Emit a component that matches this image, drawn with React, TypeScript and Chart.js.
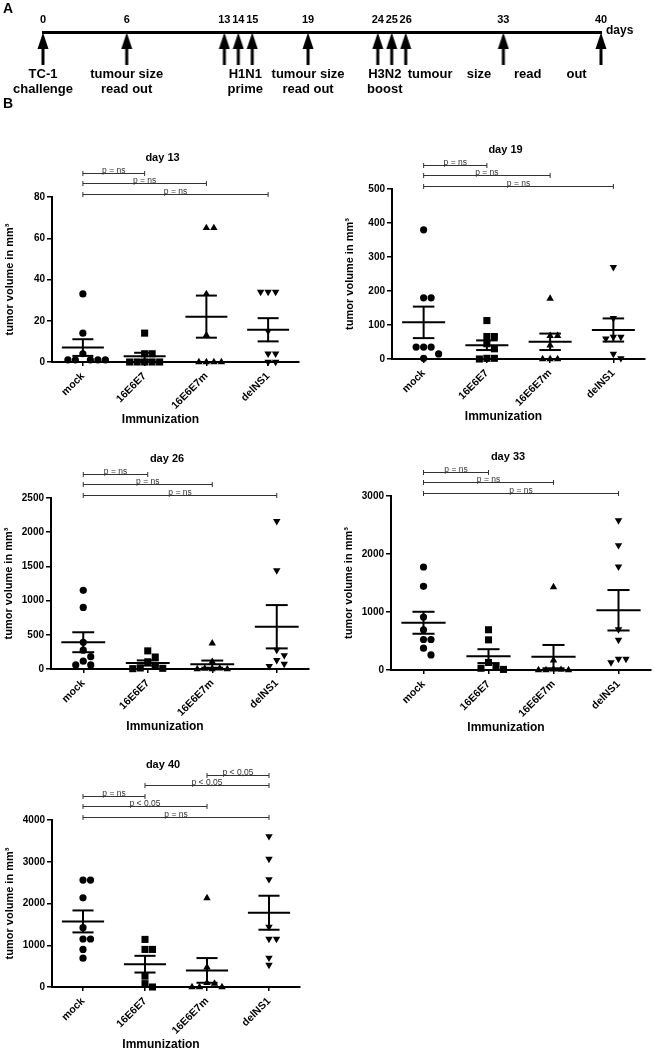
import React, { useEffect, useRef } from 'react';
import { Chart, registerables } from 'chart.js';

Chart.register(...registerables);

const FONT = '"Liberation Sans", Arial, Helvetica, sans-serif';

// ---------- Panel A: timeline ----------
const timelineDays = [0, 6, 13, 14, 15, 19, 24, 25, 26, 33, 40];
const timelineLabelDays = [0, 6, 14.5, 19, 24.5];
const timelineLabelLines = [
  ['TC-1', 'challenge'],
  ['tumour size', 'read out'],
  ['H1N1', 'prime'],
  ['tumour size', 'read out'],
  ['H3N2', 'boost'],
];
const timelineSpreadRange = [26, 40];
const timelineSpreadWords = ['tumour', 'size', 'read', 'out'];

// ---------- Panel B: tumour volumes ----------
const categories = ['mock', '16E6E7', '16E6E7m', 'delNS1'];

const day13Mock = [33, 14, 4, 1, 1, 1, 1, 1];
const day13E6E7 = [14, 4, 4, 0, 0, 0, 0, 0];
const day13E6E7m = [65, 65, 33, 13, 0, 0, 0, 0];
const day13DelNS1 = [34, 34, 34, 15, 4, 4, 0, 0];
const day13Ticks = [0, 20, 40, 60, 80];

const day19Mock = [380, 180, 180, 35, 35, 35, 15, 2];
const day19E6E7 = [113, 66, 66, 45, 30, 2, 2, 0];
const day19E6E7m = [178, 68, 68, 40, 0, 0, 0];
const day19DelNS1 = [270, 120, 65, 65, 60, 15, 2];
const day19Ticks = [0, 100, 200, 300, 400, 500];

const day26Mock = [1150, 900, 390, 275, 180, 115, 60, 60];
const day26E6E7 = [265, 175, 105, 40, 15, 10, 5];
const day26E6E7m = [374, 107, 10, 5, 0, 0, 0];
const day26DelNS1 = [2160, 1440, 280, 200, 130, 75, 40];
const day26Ticks = [0, 500, 1000, 1500, 2000, 2500];

const day33Mock = [1776, 1443, 914, 694, 526, 526, 376, 260];
const day33E6E7 = [694, 520, 130, 50, 30, 10];
const day33E6E7m = [1430, 168, 10, 5, 0, 0, 0];
const day33DelNS1 = [2580, 2150, 1780, 700, 520, 190, 130, 190];
const day33Ticks = [0, 1000, 2000, 3000];

const day40Mock = [2560, 2560, 2135, 1420, 1150, 1150, 900, 690];
const day40E6E7 = [1140, 900, 900, 260, 80, 0];
const day40E6E7m = [2130, 470, 100, 80, 0, 0, 0];
const day40DelNS1 = [3610, 3070, 2580, 1440, 1150, 1150, 700, 530];
const day40Ticks = [0, 1000, 2000, 3000, 4000];

// significance brackets, listed from the lowest row upwards: [from, to, label]
const bracketsNs3 = [
  [0, 3, 'p = ns'],
  [0, 2, 'p = ns'],
  [0, 1, 'p = ns'],
];
const day40Brackets = [
  [0, 3, 'p = ns'],
  [0, 2, 'p < 0,05'],
  [0, 1, 'p = ns'],
  [1, 3, 'p < 0,05'],
  [2, 3, 'p < 0,05'],
];

const panels = [
  { title: 'day 13', groups: [day13Mock, day13E6E7, day13E6E7m, day13DelNS1], ticks: day13Ticks, brackets: bracketsNs3 },
  { title: 'day 19', groups: [day19Mock, day19E6E7, day19E6E7m, day19DelNS1], ticks: day19Ticks, brackets: bracketsNs3 },
  { title: 'day 26', groups: [day26Mock, day26E6E7, day26E6E7m, day26DelNS1], ticks: day26Ticks, brackets: bracketsNs3 },
  { title: 'day 33', groups: [day33Mock, day33E6E7, day33E6E7m, day33DelNS1], ticks: day33Ticks, brackets: bracketsNs3 },
  { title: 'day 40', groups: [day40Mock, day40E6E7, day40E6E7m, day40DelNS1], ticks: day40Ticks, brackets: day40Brackets },
];

// layout (plot area in page pixels)
const panelBoxes = [
  { L: 52, R: 299, T: 197, B: 362 },
  { L: 392, R: 645, T: 189, B: 359 },
  { L: 51, R: 309, T: 498, B: 669 },
  { L: 391, R: 651, T: 496, B: 670 },
  { L: 52, R: 300, T: 820, B: 987 },
];

const markerStyles = [
  { style: 'circle', radius: 3.6, rotation: 0 },
  { style: 'rect', radius: 5, rotation: 0 },
  { style: 'triangle', radius: 4.3, rotation: 0 },
  { style: 'triangle', radius: 4.3, rotation: 180 },
];

// horizontal spreading of points with (nearly) equal values, like a scatter dot plot
function swarm(values: number[], max: number, plotH: number, catW: number): number[] {
  const STEP = 7.5;
  const D = 7;
  const order = values.map((_, i) => i).sort((a, b) => values[b] - values[a]);
  const placed: { x: number; y: number }[] = [];
  const out = values.map(() => 0);
  const cand = [0, 1, -1, 2, -2, 3, -3, 4, -4];
  for (const i of order) {
    const y = (values[i] / max) * plotH;
    for (const k of cand) {
      const x = k * STEP;
      if (placed.every((p) => Math.hypot(p.x - x, p.y - y) >= D)) {
        placed.push({ x, y });
        out[i] = x / catW;
        break;
      }
    }
  }
  return out;
}

const meanSemPlugin = {
  id: 'meanSem',
  beforeDatasetsDraw(chart: any, _a: any, opts: any) {
    const { ctx } = chart;
    const xs = chart.scales.x;
    const ys = chart.scales.y;
    const catW = xs.getPixelForValue(1) - xs.getPixelForValue(0);
    ctx.save();
    ctx.strokeStyle = '#000';
    ctx.lineWidth = 2;
    (opts.groups as number[][]).forEach((vals, i) => {
      const n = vals.length;
      const m = vals.reduce((s, v) => s + v, 0) / n;
      const sd = Math.sqrt(vals.reduce((s, v) => s + (v - m) * (v - m), 0) / (n - 1));
      const sem = sd / Math.sqrt(n);
      const cx = xs.getPixelForValue(i);
      const yM = ys.getPixelForValue(m);
      const yT = ys.getPixelForValue(m + sem);
      const yB = ys.getPixelForValue(m - sem);
      const seg = (x1: number, y1: number, x2: number, y2: number) => {
        ctx.beginPath();
        ctx.moveTo(x1, y1);
        ctx.lineTo(x2, y2);
        ctx.stroke();
      };
      seg(cx - 0.34 * catW, yM, cx + 0.34 * catW, yM);
      seg(cx - 0.17 * catW, yT, cx + 0.17 * catW, yT);
      seg(cx - 0.17 * catW, yB, cx + 0.17 * catW, yB);
      seg(cx, yT, cx, yB);
    });
    ctx.restore();
  },
};

const panelTextPlugin = {
  id: 'panelText',
  afterDraw(chart: any, _a: any, opts: any) {
    const { ctx, chartArea } = chart;
    const xs = chart.scales.x;
    const rows = opts.brackets as any[];
    const mid = (chartArea.left + chartArea.right) / 2;
    ctx.save();
    // brackets
    ctx.strokeStyle = '#333';
    ctx.fillStyle = '#333';
    ctx.lineWidth = 1;
    ctx.font = `8.5px ${FONT}`;
    ctx.textAlign = 'center';
    ctx.textBaseline = 'alphabetic';
    rows.forEach((r, k) => {
      const y = Math.round(chartArea.top - 3.5 - k * 10.4) + 0.5;
      const x1 = xs.getPixelForValue(r[0]);
      const x2 = xs.getPixelForValue(r[1]);
      ctx.beginPath();
      ctx.moveTo(x1, y);
      ctx.lineTo(x2, y);
      ctx.moveTo(x1, y - 2.5);
      ctx.lineTo(x1, y + 2.5);
      ctx.moveTo(x2, y - 2.5);
      ctx.lineTo(x2, y + 2.5);
      ctx.stroke();
      ctx.fillText(r[2], (x1 + x2) / 2, y - 0.5);
    });
    // title
    ctx.fillStyle = '#000';
    ctx.font = `bold 11px ${FONT}`;
    ctx.textBaseline = 'middle';
    ctx.fillText(opts.title, mid - 13, chartArea.top - (39 + (rows.length - 3) * 8));
    // x-axis title
    ctx.font = `bold 12px ${FONT}`;
    ctx.fillText('Immunization', mid - 15, chartArea.bottom + 58);
    ctx.restore();
  },
};

function Panel({ spec, box }: { spec: any; box: any }) {
  const ref = useRef<HTMLCanvasElement>(null);
  const yW = 54;
  const padR = 6;
  const xH = 66;
  const rows = spec.brackets.length;
  const padT = rows > 3 ? 63 : 47;
  const left = box.L - yW;
  const top = box.T - padT;
  const width = box.R - box.L + yW + padR;
  const height = box.B - top + xH;

  useEffect(() => {
    const max = spec.ticks[spec.ticks.length - 1];
    const plotH = box.B - box.T;
    const catW = (box.R - box.L) / categories.length;
    const datasets = spec.groups.map((vals: number[], i: number) => {
      const offs = swarm(vals, max, plotH, catW);
      const ms = markerStyles[i];
      return {
        data: vals.map((v, j) => ({ x: i + offs[j], y: v })),
        pointStyle: ms.style,
        pointRadius: ms.radius,
        pointHoverRadius: ms.radius,
        pointRotation: ms.rotation,
        pointBackgroundColor: '#000',
        pointBorderColor: '#000',
        pointBorderWidth: 0,
        showLine: false,
        clip: false,
      };
    });
    const axisGrid = { display: true, drawOnChartArea: false, drawTicks: true, color: '#000', lineWidth: 1.5 };
    const chart = new Chart(ref.current as HTMLCanvasElement, {
      type: 'scatter',
      data: { datasets },
      options: {
        responsive: false,
        animation: false,
        events: [],
        layout: { padding: { left: 0, right: padR, top: padT, bottom: 0 } },
        plugins: {
          legend: { display: false },
          tooltip: { enabled: false },
          meanSem: { groups: spec.groups },
          panelText: { brackets: spec.brackets, title: spec.title },
        } as any,
        scales: {
          x: {
            type: 'linear',
            min: -0.5,
            max: categories.length - 0.5,
            afterBuildTicks: (s: any) => {
              s.ticks = categories.map((_, i) => ({ value: i }));
            },
            afterFit: (s: any) => {
              s.height = xH;
            },
            grid: { ...axisGrid, tickLength: 4 },
            border: { display: true, color: '#000', width: 2 },
            ticks: {
              autoSkip: false,
              minRotation: 45,
              maxRotation: 45,
              padding: 4,
              color: '#000',
              font: { family: FONT, size: 10.5, weight: 'bold' },
              callback: (v: any) => categories[v] ?? '',
            },
          },
          y: {
            type: 'linear',
            min: 0,
            max,
            afterBuildTicks: (s: any) => {
              s.ticks = spec.ticks.map((v: number) => ({ value: v }));
            },
            afterFit: (s: any) => {
              s.width = yW;
            },
            grid: { ...axisGrid, tickLength: 5 },
            border: { display: true, color: '#000', width: 2 },
            ticks: {
              padding: 2,
              color: '#000',
              font: { family: FONT, size: 10, weight: 'bold' },
              callback: (v: any) => String(v),
            },
            title: {
              display: true,
              text: 'tumor volume in mm³',
              color: '#000',
              font: { family: FONT, size: 11, weight: 'bold' },
              padding: { top: 5.4, bottom: 0 },
            },
          },
        } as any,
      },
      plugins: [meanSemPlugin, panelTextPlugin],
    } as any);
    return () => chart.destroy();
  }, []);

  return (
    <canvas
      ref={ref}
      width={width}
      height={height}
      style={{ position: 'absolute', left, top, width, height }}
    />
  );
}

const timelinePlugin = {
  id: 'timelineText',
  afterDraw(chart: any) {
    const { ctx, chartArea } = chart;
    const xs = chart.scales.x;
    ctx.save();
    ctx.fillStyle = '#000';
    ctx.font = `bold 13px ${FONT}`;
    ctx.textAlign = 'center';
    ctx.textBaseline = 'middle';
    timelineLabelDays.forEach((d, i) => {
      const x = xs.getPixelForValue(d);
      timelineLabelLines[i].forEach((t, k) => ctx.fillText(t, x, chartArea.bottom + 9 + k * 15));
    });
    const x0 = xs.getPixelForValue(timelineSpreadRange[0]);
    const x1 = xs.getPixelForValue(timelineSpreadRange[1]);
    timelineSpreadWords.forEach((w, i) => {
      ctx.fillText(w, x0 + ((x1 - x0) * (i + 0.5)) / timelineSpreadWords.length, chartArea.bottom + 9);
    });
    ctx.textAlign = 'left';
    ctx.font = `bold 12px ${FONT}`;
    ctx.fillText('days', chartArea.right + 5, chartArea.top - 1);
    ctx.restore();
  },
};

function Timeline() {
  const ref = useRef<HTMLCanvasElement>(null);
  useEffect(() => {
    const arrow = document.createElement('canvas');
    arrow.width = 12;
    arrow.height = 33;
    const a = arrow.getContext('2d') as CanvasRenderingContext2D;
    a.fillStyle = '#000';
    a.beginPath();
    a.moveTo(6, 0.5);
    a.lineTo(11.5, 17);
    a.lineTo(0.5, 17);
    a.closePath();
    a.fill();
    a.fillRect(4.5, 16, 3, 17);

    const chart = new Chart(ref.current as HTMLCanvasElement, {
      type: 'scatter',
      data: {
        datasets: [
          {
            data: timelineDays.map((d) => ({ x: d, y: 0.5 })),
            pointStyle: arrow,
            pointRadius: 6,
            clip: false,
          },
        ],
      },
      options: {
        responsive: false,
        animation: false,
        events: [],
        layout: { padding: { left: 43, right: 54, top: 0, bottom: 35 } },
        plugins: { legend: { display: false }, tooltip: { enabled: false } },
        scales: {
          x: {
            type: 'linear',
            position: 'top',
            min: 0,
            max: 40,
            afterBuildTicks: (s: any) => {
              s.ticks = timelineDays.map((v) => ({ value: v }));
            },
            afterFit: (s: any) => {
              s.height = 32;
            },
            grid: { display: true, drawOnChartArea: false, drawTicks: false },
            border: { display: true, color: '#000', width: 3 },
            ticks: {
              autoSkip: false,
              maxRotation: 0,
              minRotation: 0,
              padding: 5,
              color: '#000',
              font: { family: FONT, size: 11, weight: 'bold' },
              callback: (v: any) => String(v),
            },
          },
          y: { display: false, min: 0, max: 1 },
        } as any,
      },
      plugins: [timelinePlugin],
    } as any);
    return () => chart.destroy();
  }, []);
  return <canvas ref={ref} width={655} height={100} style={{ position: 'absolute', left: 0, top: 0 }} />;
}

export default function App() {
  const letter = { position: 'absolute' as const, left: 3, font: `bold 14px ${FONT}`, color: '#000' };
  return (
    <div
      style={{
        position: 'absolute',
        left: 0,
        top: 0,
        width: 655,
        height: 1050,
        overflow: 'hidden',
        background: '#fff',
      }}
    >
      <Timeline />
      <div style={{ ...letter, top: 0 }}>A</div>
      <div style={{ ...letter, top: 95 }}>B</div>
      {panels.map((p, i) => (
        <Panel key={p.title} spec={p} box={panelBoxes[i]} />
      ))}
    </div>
  );
}
